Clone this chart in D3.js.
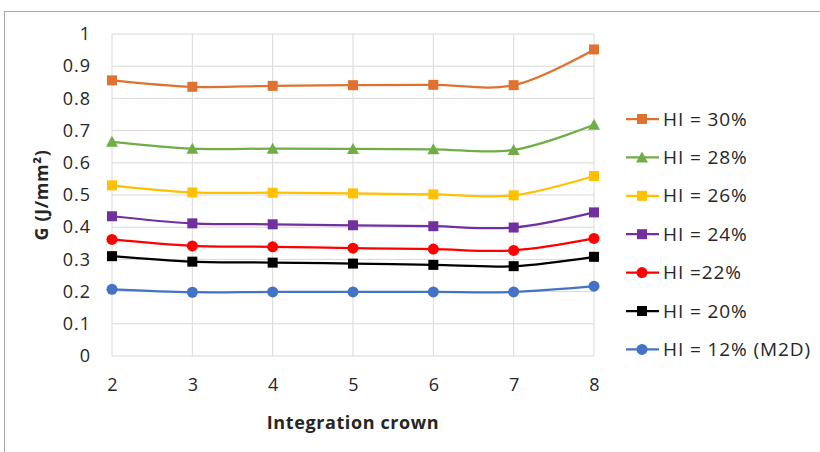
<!DOCTYPE html>
<html>
<head>
<meta charset="utf-8">
<script src="https://cdn.jsdelivr.net/npm/d3@7"></script>
<style>
  body { margin: 0; background: #fff; }
  text { font-family: "Open Sans", "Noto Sans", sans-serif; fill: #262626; }
</style>
</head>
<body>
<svg width="820" height="452"></svg>
<script>
var crowns = [2, 3, 4, 5, 6, 7, 8];
var yTicks = [0, 0.1, 0.2, 0.3, 0.4, 0.5, 0.6, 0.7, 0.8, 0.9, 1];

var seriesNames = ["HI = 30%", "HI = 28%", "HI = 26%", "HI = 24%", "HI =22%", "HI = 20%", "HI = 12% (M2D)"];
var seriesColors = ["#DF7230", "#70AD47", "#FFC000", "#7030A0", "#FF0000", "#000000", "#4472C4"];
var seriesMarkers = ["square", "triangle", "square", "square", "circle", "square", "circle"];

var hi30 = [0.856, 0.836, 0.839, 0.841, 0.842, 0.841, 0.952];
var hi28 = [0.665, 0.644, 0.644, 0.643, 0.642, 0.640, 0.718];
var hi26 = [0.530, 0.508, 0.507, 0.505, 0.502, 0.499, 0.559];
var hi24 = [0.434, 0.412, 0.409, 0.406, 0.403, 0.399, 0.446];
var hi22 = [0.362, 0.342, 0.339, 0.335, 0.332, 0.328, 0.365];
var hi20 = [0.310, 0.293, 0.290, 0.287, 0.283, 0.279, 0.308];
var hi12 = [0.207, 0.198, 0.199, 0.199, 0.199, 0.199, 0.217];
var seriesValues = [hi30, hi28, hi26, hi24, hi22, hi20, hi12];

var svg = d3.select("svg"),
    width = +svg.attr("width"),
    height = +svg.attr("height");

// chart border (runs off the right and bottom edge)
svg.append("rect")
    .attr("x", 4.5).attr("y", 11.5)
    .attr("width", 840).attr("height", 460)
    .style("fill", "none")
    .style("stroke", "#a6a6a6");

var x = d3.scaleLinear().domain([2, 8]).range([112, 594]);
var y = d3.scaleLinear().domain([0, 1]).range([356, 34]);

var grid = svg.append("g").attr("class", "grid");
grid.selectAll("line.h")
    .data(yTicks)
    .enter().append("line")
    .attr("class", "h")
    .attr("x1", x(2)).attr("x2", x(8))
    .attr("y1", function(d) { return y(d); })
    .attr("y2", function(d) { return y(d); })
    .style("stroke", "#d9d9d9");
grid.selectAll("line.v")
    .data(crowns)
    .enter().append("line")
    .attr("class", "v")
    .attr("y1", y(0)).attr("y2", y(1))
    .attr("x1", function(d) { return x(d); })
    .attr("x2", function(d) { return x(d); })
    .style("stroke", "#d9d9d9");

var yAxis = svg.append("g")
    .attr("transform", "translate(" + (x(2) - 9) + ",0)")
    .call(d3.axisLeft(y).tickValues(yTicks).tickSize(0).tickPadding(12)
      .tickFormat(function(d) { return d === 0 || d === 1 ? d : d3.format(".1f")(d); }));
yAxis.select(".domain").remove();
yAxis.selectAll("text").style("font-size", "18px").style("letter-spacing", "1px");

var xAxis = svg.append("g")
    .attr("transform", "translate(0," + (y(0) + 16) + ")")
    .call(d3.axisBottom(x).tickValues(crowns).tickSize(0).tickPadding(6).tickFormat(d3.format("d")));
xAxis.select(".domain").remove();
xAxis.selectAll("text").style("font-size", "18px");

svg.append("text")
    .attr("x", (x(2) + x(8)) / 2)
    .attr("y", 429)
    .attr("text-anchor", "middle")
    .style("font-size", "18px")
    .style("font-weight", "bold")
    .style("letter-spacing", "0.6px")
    .text("Integration crown");

svg.append("text")
    .attr("transform", "translate(48," + ((y(0) + y(1)) / 2) + ") rotate(-90)")
    .attr("text-anchor", "middle")
    .style("font-size", "18px")
    .style("font-weight", "bold")
    .style("letter-spacing", "0.6px")
    .text("G (J/mm²)");

var line = d3.line()
    .x(function(d, i) { return x(crowns[i]); })
    .y(function(d) { return y(d); })
    .curve(d3.curveCatmullRom.alpha(0.5));

function drawMarker(sel, type, color) {
  if (type === "square") {
    sel.append("rect").attr("x", -5).attr("y", -5).attr("width", 10).attr("height", 10)
      .style("fill", color);
  } else if (type === "triangle") {
    sel.append("path").attr("d", "M0,-6L6,5L-6,5Z").style("fill", color);
  } else {
    sel.append("circle").attr("r", 5.5).style("fill", color);
  }
}

// draw bottom series first so upper ones sit on top like Excel
for (var s = seriesValues.length - 1; s >= 0; s--) {
  var g = svg.append("g");
  g.append("path")
      .datum(seriesValues[s])
      .attr("d", line)
      .style("fill", "none")
      .style("stroke", seriesColors[s])
      .style("stroke-width", 2.25);
  var pts = g.selectAll("g.pt")
      .data(seriesValues[s])
      .enter().append("g")
      .attr("class", "pt")
      .attr("transform", function(d, i) { return "translate(" + x(crowns[i]) + "," + y(d) + ")"; });
  drawMarker(pts, seriesMarkers[s], seriesColors[s]);
}

var legend = svg.append("g").selectAll("g")
    .data(seriesNames)
    .enter().append("g")
    .attr("transform", function(d, i) { return "translate(626," + (119 + i * 38.4) + ")"; });
legend.append("line")
    .attr("x1", 0).attr("x2", 33)
    .style("stroke", function(d, i) { return seriesColors[i]; })
    .style("stroke-width", 2.25);
legend.each(function(d, i) {
  var m = d3.select(this).append("g").attr("transform", "translate(16,0)");
  drawMarker(m, seriesMarkers[i], seriesColors[i]);
});
legend.append("text")
    .attr("x", 37)
    .attr("dy", "0.35em")
    .style("font-size", "19px")
    .style("letter-spacing", "0.9px")
    .text(function(d) { return d; });
</script>
</body>
</html>
